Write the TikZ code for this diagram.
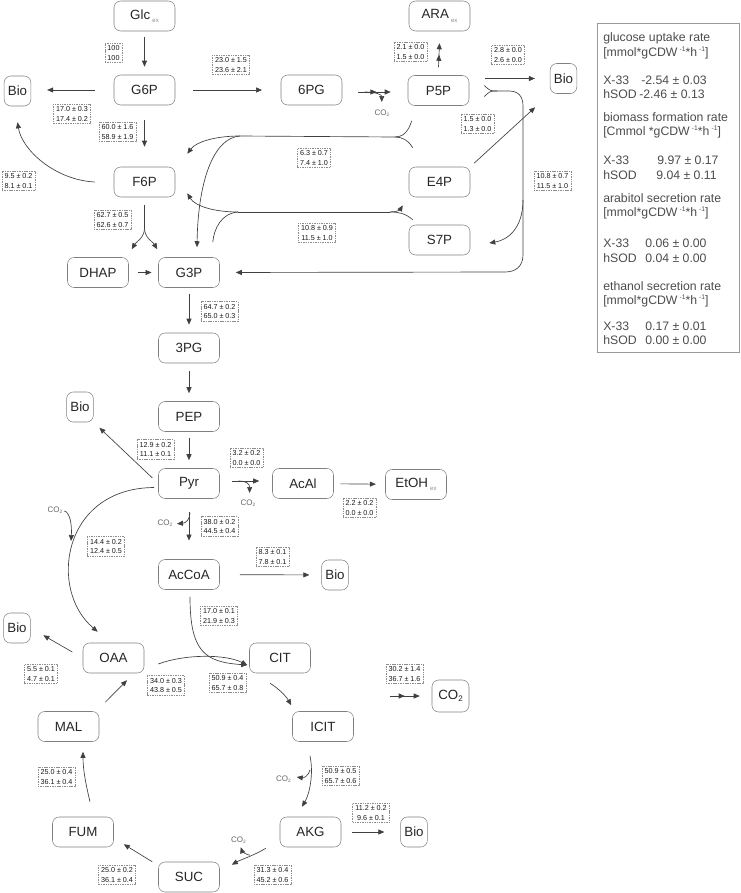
\documentclass[tikz,border=0pt]{standalone}
\usepackage{fontspec}
\setmainfont{Liberation Sans}
\usetikzlibrary{arrows.meta,calc,decorations.markings}
\newcommand{\exname}[1]{#1\,\raisebox{-0.5ex}{\fontsize{4.5}{5}\selectfont\color{black!45}ex}}
\newcommand{\cotwo}{CO\raisebox{-0.3ex}{\scalebox{0.6}{2}}}
\newcommand{\inv}{\,\raisebox{0.75ex}{\scalebox{0.55}{-1}}}
\begin{document}
\begin{tikzpicture}[
  x=0.75pt, y=-0.75pt,
  met/.style={draw=black!50, rounded corners=5pt, minimum width=45.75pt, minimum height=22.5pt, inner sep=1pt, font=\fontsize{10}{12}\selectfont, text=black!85},
  bio/.style={met, minimum width=20pt},
  flux/.style={draw=black!45, line width=0.4pt, dash pattern=on 1.1pt off 0.7pt, inner xsep=2pt, inner ysep=2pt, align=center, font=\fontsize{5.4}{6.8}\selectfont, text=black!90},
  gas/.style={inner sep=0.5pt, font=\fontsize{6}{7}\selectfont, text=black!60},
  leg/.style={anchor=west, inner sep=0pt, font=\fontsize{9.2}{11}\selectfont, text=black!70},
  stub/.style={draw=black!75, line width=0.5pt},
  flow/.style={stub, -{Triangle[length=4.5pt,width=3.75pt]}},
  midtip/.style={postaction={decorate, decoration={markings, mark=at position #1 with {\arrow{Triangle[length=4.5pt,width=3.75pt]}}}}}
]
\useasboundingbox (0,0) rectangle (740,893);

% metabolites
\node[met] (glc) at (144.5,16) {\exname{Glc}};
\node[met] (g6p) at (144.5,90) {G6P};
\node[bio] (bioA) at (17.5,91) {Bio};
\node[met] (pg6) at (311.5,90) {6PG};
\node[met] (f6p) at (144.5,182) {F6P};
\node[met] (ara) at (439.5,16) {\exname{ARA}};
\node[met] (p5p) at (438.5,90.5) {P5P};
\node[bio] (bioB) at (563.5,78.5) {Bio};
\node[met] (e4p) at (439.5,182) {E4P};
\node[met] (s7p) at (439.5,240) {S7P};
\node[met] (dhap) at (98,272.5) {DHAP};
\node[met] (g3p) at (189,272.5) {G3P};
\node[met] (pg3) at (189,348) {3PG};
\node[met] (pep) at (189,416.5) {PEP};
\node[bio] (bioC) at (80,407) {Bio};
\node[met] (pyr) at (189,483.5) {Pyr};
\node[met] (acal) at (303,483.5) {AcAl};
\node[met] (etoh) at (416,484.5) {\exname{EtOH}};
\node[met] (accoa) at (189,574.5) {AcCoA};
\node[bio] (bioD) at (335,575) {Bio};
\node[bio] (bioE) at (17,628) {Bio};
\node[met] (oaa) at (113.5,658) {OAA};
\node[met] (cit) at (280,658) {CIT};
\node[met] (mal) at (68.5,726.5) {MAL};
\node[met] (icit) at (323,726.5) {ICIT};
\node[met] (fum) at (83,832) {FUM};
\node[met] (akg) at (310.5,832) {AKG};
\node[bio] (bioF) at (414,832) {Bio};
\node[met] (suc) at (189,877) {SUC};
\node[met, minimum width=27.75pt, minimum height=24pt] (co2) at (450.5,696) {\cotwo};

% fluxes
\node[flux] (f1) at (113.5,53) {100\\100};
\node[flux] (f2) at (231,65) {23.0 ± 1.5\\23.6 ± 2.1};
\node[flux] (f3) at (72,114) {17.0 ± 0.3\\17.4 ± 0.2};
\node[flux] (f4) at (117.5,132) {60.0 ± 1.6\\58.9 ± 1.9};
\node[flux] (f5) at (18.5,181) {9.5 ± 0.2\\8.1 ± 0.1};
\node[flux] (f6) at (112.5,220) {62.7 ± 0.5\\62.6 ± 0.7};
\node[flux] (f7) at (314,158) {6.3 ± 0.7\\7.4 ± 1.0};
\node[flux] (f8) at (317,233) {10.8 ± 0.9\\11.5 ± 1.0};
\node[flux] (f9) at (410.5,52) {2.1 ± 0.0\\1.5 ± 0.0};
\node[flux] (f10) at (508,55) {2.8 ± 0.0\\2.6 ± 0.0};
\node[flux] (f11) at (477.5,124) {1.5 ± 0.0\\1.3 ± 0.0};
\node[flux] (f12) at (552.5,181) {10.8 ± 0.7\\11.5 ± 1.0};
\node[flux] (f13) at (219.5,311.5) {64.7 ± 0.2\\65.0 ± 0.3};
\node[flux] (f14) at (155.5,449.5) {12.9 ± 0.2\\11.1 ± 0.1};
\node[flux] (f15) at (246.5,458) {3.2 ± 0.2\\0.0 ± 0.0};
\node[flux] (f16) at (359.5,508) {2.2 ± 0.2\\0.0 ± 0.0};
\node[flux] (f17) at (219.5,526.5) {38.0 ± 0.2\\44.5 ± 0.4};
\node[flux] (f18) at (272.5,557) {8.3 ± 0.1\\7.8 ± 0.1};
\node[flux] (f19) at (106,546.5) {14.4 ± 0.2\\12.4 ± 0.5};
\node[flux] (f20) at (219,616) {17.0 ± 0.1\\21.9 ± 0.3};
\node[flux] (f21) at (41,674) {5.5 ± 0.1\\4.7 ± 0.1};
\node[flux] (f22) at (166,685.5) {34.0 ± 0.3\\43.8 ± 0.5};
\node[flux] (f23) at (227.5,683) {50.9 ± 0.4\\65.7 ± 0.8};
\node[flux] (f24) at (404.5,674) {30.2 ± 1.4\\36.7 ± 1.6};
\node[flux] (f25) at (56.5,777) {25.0 ± 0.4\\36.1 ± 0.4};
\node[flux] (f26) at (340.5,776) {50.9 ± 0.5\\65.7 ± 0.6};
\node[flux] (f27) at (371,813) {11.2 ± 0.2\\9.6 ± 0.1};
\node[flux] (f28) at (272.5,875) {31.3 ± 0.4\\45.2 ± 0.6};
\node[flux] (f29) at (117,875) {25.0 ± 0.2\\36.1 ± 0.4};

% released CO2
\node[gas] (c1) at (382,113) {\cotwo};
\node[gas] (c2) at (248,503) {\cotwo};
\node[gas] (c3) at (165,523) {\cotwo};
\node[gas] (c4) at (55,510) {\cotwo};
\node[gas] (c5) at (283.5,779) {\cotwo};
\node[gas] (c6) at (238.5,840) {\cotwo};

% junctions
\coordinate (tkr) at (497,91);
\coordinate (tks) at (523,200);
\coordinate (ta) at (395,137);
\coordinate (tb) at (240,136);
\coordinate (tc) at (390,212);
\coordinate (td) at (238,212);
\coordinate (fa) at (144.5,228);
\coordinate (oj) at (71,541);

% upper part
\draw[flow, shorten <=4.5pt, shorten >=6pt] (glc) -- (g6p);
\draw[flow, shorten <=14pt, shorten >=12pt] (g6p.west) -- (g6p.west -| bioA.east);
\draw[flow, shorten <=13.5pt, shorten >=14pt] (g6p) -- (pg6);
\draw[flow, midtip=0.56] ($(pg6.east)+(16,2)$) -- coordinate[pos=0.2] (pb) ($(p5p.west)+(-17,1.5)$);
\draw[flow] (pb) .. controls ($(pb)+(12,0)$) and ($(pb)+(17,3)$) .. ($(pb)+(17,10)$);
\draw[flow, midtip=0.52] ($(p5p.north)+(0,-8)$) -- ($(ara.south)+(0,12)$);
\draw[flow] ($(p5p.east |- bioB.west)+(16,0)$) -- ($(bioB.west)+(-15,0)$);
\draw[flow, shorten <=4pt, shorten >=15pt] (e4p.north east) -- (bioB.south west);
\draw[flow, shorten <=11pt, shorten >=15pt] (g6p) -- (f6p);
\draw[flow] ($(f6p.west)+(-19,0)$) .. controls (55,180) and (22,150) .. ($(bioA.south)+(0,16)$);

% P5P to S7P and G3P
\draw[stub] ($(p5p.east)+(15,-5)$) .. controls ($(p5p.east)+(21,0.5)$) .. (tkr);
\draw[stub] ($(p5p.east)+(15,6)$) .. controls ($(p5p.east)+(21,0.5)$) .. (tkr);
\draw[flow, shorten >=12pt] (tkr) -- (509,91) .. controls (518,91) and (523,96) .. (523,106)
  -- (523,255) .. controls (523,266) and (516,272) .. (505,272) -- (g3p.east);
\draw[flow] (tks) .. controls (523,228) and (508,240) .. ($(s7p.east)+(19,3)$);

% P5P + E4P
\draw[stub] ($(p5p.south west)+(4,15)$) .. controls (408,133) and (402,137) .. (ta);
\draw[stub] ($(e4p.north west)+(4,-19)$) .. controls (408,140) and (402,137) .. (ta);
\draw[stub] (ta) -- (tb);
\draw[flow] (tb) .. controls (215,136) and (196,142) .. ($(f6p.north east)+(12,-13)$);
\draw[flow] (tb) .. controls (212,138) and (198,185) .. ($(g3p.north)+(8,-10)$);

% S7P + G3P
\draw[stub] ($(s7p.north west)+(4,-5)$) .. controls (405,213) and (398,212) .. (tc);
\draw[flow] (tc) .. controls (396,212) and (400,210) .. ($(e4p.south west)+(-6,8)$);
\draw[stub] (tc) -- (td);
\draw[flow] (td) .. controls (214,212) and (195,206) .. ($(f6p.south east)+(12,-4)$);
\draw[stub] ($(g3p.north east)+(-7,-15)$) .. controls (214,228) and (222,213) .. (td);

% lower glycolysis
\draw[stub] ($(f6p.south)+(0,8)$) -- (fa);
\draw[flow] (fa) .. controls (144.5,238) and (136,242) .. ($(dhap.north east)+(3,-8)$);
\draw[flow] (fa) .. controls (144.5,238) and (153,242) .. ($(g3p.north west)+(-1,-8)$);
\draw[flow, shorten <=6.75pt, shorten >=5pt] (dhap) -- (g3p);
\draw[flow, shorten <=5pt, shorten >=6pt] (g3p) -- (pg3);
\draw[flow, shorten <=6pt, shorten >=6pt] (pg3) -- (pep);
\draw[flow, shorten <=5pt, shorten >=6pt] (pep) -- (pyr);
\draw[flow, shorten <=6pt, shorten >=6pt] (pyr.west) -- (bioC.south east);

% pyruvate node
\draw[flow] ($(pyr.east)+(12,-2.5)$) -- coordinate[pos=0.25] (pa) ($(acal.west)+(-13,-2.5)$);
\draw[flow] (pa) .. controls ($(pa)+(8,0)$) and ($(pa)+(11,3)$) .. ($(pa)+(11,12)$);
\draw[flow, shorten <=5pt, shorten >=7pt] (acal) -- (etoh);
\draw[flow, shorten <=10pt, shorten >=14pt] (pyr) -- (accoa);
\draw[flow] ($(pyr.south)+(1,14)$) .. controls (190,519) and (186,523) .. ($(pyr.south)+(-12,25)$);
\draw[flow, shorten <=15pt, shorten >=9pt] (accoa) -- (bioD);
\draw[flow] ($(pyr.west)+(-4,4)$) .. controls (62,488) and (48,590) .. ($(oaa.north west)+(15,-11)$);
\draw[flow] ($(c4.east)+(1,1)$) .. controls (70,512) and (72,525) .. (oj);

% TCA cycle
\draw[flow] ($(accoa.south)+(1,7)$) .. controls (190,652) and (205,662) .. ($(cit.west)+(-2,7)$);
\draw[flow] ($(oaa.east)+(14,6)$) .. controls (185,654) and (225,654) .. ($(cit.west)+(-2,7)$);
\draw[flow, shorten <=9pt, shorten >=11pt] (oaa.west) -- (bioE.east);
\draw[flow] ($(cit.south)+(-10,10)$) .. controls (278,688) and (286,696) .. ($(icit.north west)+(-1,-6)$);
\draw[flow] ($(icit.south)+(-13,14)$) .. controls (314,775) and (309,795) .. ($(akg.north)+(-8.5,-10)$);
\draw[flow] ($(icit.south)+(-13,28)$) .. controls (308,777) and (303,778) .. ($(c5.east)+(5,-2)$);
\draw[flow, shorten <=8pt, shorten >=12pt] (akg) -- (bioF);
\draw[flow] ($(akg.south west)+(-14,1)$) .. controls (255,855) and (240,860) .. ($(suc.north east)+(12,3)$);
\draw[flow] ($(akg.south west)+(-30,8)$) .. controls (245,854) and (242,851) .. ($(akg.south west)+(-39,0)$);
\draw[flow] ($(suc.north west)+(-6,0)$) -- ($(fum.south east)+(10,-3)$);
\draw[flow] ($(fum.north)+(7,-15)$) .. controls (86,785) and (83,770) .. ($(mal.south)+(14.5,10)$);
\draw[flow] ($(mal.north east)+(6,-9)$) -- ($(oaa.south)+(13.5,7)$);
\draw[flow, midtip=0.5] ($(co2.west)+(-42,0)$) -- ($(co2.west)+(-12,0)$);

% legend
\draw[draw=black!40] (597,23) rectangle (739,352);
\node[leg] (lg1) at (603,38) {glucose uptake rate};
\node[leg] (lu1) at (603,53) {[mmol*gCDW\inv*h\inv]};
\node[leg] (lx1) at (603,80) {X-33};
\node[leg] (lv1) at (641,80) {-2.54 ± 0.03};
\node[leg] (lh1) at (603,94) {hSOD};
\node[leg] (lw1) at (639,94) {-2.46 ± 0.13};
\node[leg] (lg2) at (603,117) {biomass formation rate};
\node[leg] (lu2) at (603,132) {[Cmmol *gCDW\inv *h\inv]};
\node[leg] (lx2) at (603,160) {X-33};
\node[leg] (lv2) at (657,160) {9.97 ± 0.17};
\node[leg] (lh2) at (603,175) {hSOD};
\node[leg] (lw2) at (656,175) {9.04 ± 0.11};
\node[leg] (lg3) at (603,198) {arabitol secretion rate};
\node[leg] (lu3) at (603,213) {[mmol*gCDW\inv*h\inv]};
\node[leg] (lx3) at (603,243) {X-33};
\node[leg] (lv3) at (645,243) {0.06 ± 0.00};
\node[leg] (lh3) at (603,258) {hSOD};
\node[leg] (lw3) at (645,258) {0.04 ± 0.00};
\node[leg] (lg4) at (603,286) {ethanol secretion rate};
\node[leg] (lu4) at (603,301) {[mmol*gCDW\inv*h\inv]};
\node[leg] (lx4) at (603,326) {X-33};
\node[leg] (lv4) at (645,326) {0.17 ± 0.01};
\node[leg] (lh4) at (603,340) {hSOD};
\node[leg] (lw4) at (645,340) {0.00 ± 0.00};
\end{tikzpicture}
\end{document}
